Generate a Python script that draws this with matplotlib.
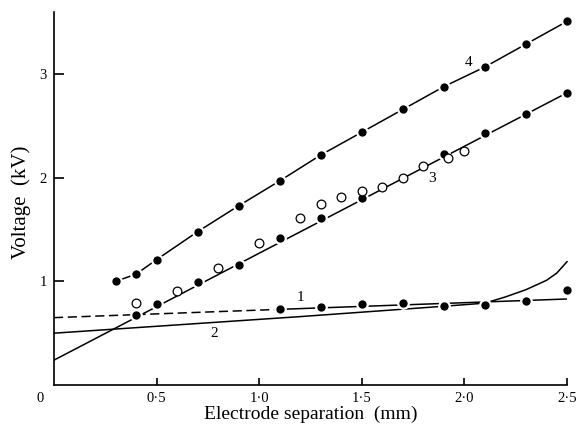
import matplotlib
matplotlib.use("Agg")
import matplotlib.pyplot as plt

plt.rcParams["font.family"] = ["Liberation Serif", "DejaVu Serif"]

# curve 4 (filled)
c4_x = [0.3, 0.4, 0.5, 0.7, 0.9, 1.1, 1.3, 1.5, 1.7, 1.9, 2.1, 2.3, 2.5]
c4_y = [1.00, 1.07, 1.21, 1.48, 1.73, 1.97, 2.22, 2.44, 2.66, 2.88, 3.07, 3.29, 3.51]

# curve 3 (filled) and its straight line
c3_x = [0.4, 0.5, 0.7, 0.9, 1.1, 1.3, 1.5, 1.9, 2.1, 2.3, 2.5]
c3_y = [0.68, 0.78, 0.99, 1.16, 1.42, 1.61, 1.80, 2.23, 2.43, 2.62, 2.82]
line3_x = [0.0, 2.5]
line3_y = [0.24, 2.82]

# curve 3 (open circles)
c3o_x = [0.4, 0.6, 0.8, 1.0, 1.2, 1.3, 1.4, 1.5, 1.6, 1.7, 1.8, 1.92, 2.0]
c3o_y = [0.79, 0.91, 1.13, 1.37, 1.61, 1.75, 1.81, 1.87, 1.91, 2.00, 2.11, 2.19, 2.26]

# curve 1 (filled) and its line: dashed part, solid part
c1_x = [1.1, 1.3, 1.5, 1.7, 1.9, 2.1, 2.3, 2.5]
c1_y = [0.73, 0.75, 0.78, 0.79, 0.76, 0.77, 0.81, 0.92]
line1_dash_x = [0.0, 1.1]
line1_dash_y = [0.65, 0.73]
line1_solid_x = [1.1, 2.5]
line1_solid_y = [0.73, 0.83]

# curve 2 (line only)
c2_x = [0.0, 0.6, 1.2, 1.9, 2.1, 2.2, 2.3, 2.4, 2.45, 2.5]
c2_y = [0.50, 0.58, 0.66, 0.76, 0.79, 0.85, 0.92, 1.01, 1.08, 1.19]

xticks = [0.5, 1.0, 1.5, 2.0, 2.5]
xtick_labels = ["0·5", "1·0", "1·5", "2·0", "2·5"]
yticks = [1, 2, 3]
ytick_labels = ["1", "2", "3"]

LW = 1.1
fig = plt.figure(figsize=(5.77, 4.29), dpi=100)
ax = fig.add_axes([0.0936, 0.1026, 0.8891, 0.8694])

ax.plot(line3_x, line3_y, color="black", lw=LW)
ax.plot(c4_x, c4_y, color="black", lw=LW)
ax.plot(line1_dash_x, line1_dash_y, color="black", lw=LW, dashes=(6, 3))
ax.plot(line1_solid_x, line1_solid_y, color="black", lw=LW)
ax.plot(c2_x, c2_y, color="black", lw=LW, clip_on=False)

dot = dict(ls="none", marker="o", ms=7.6, mfc="black", mec="white", mew=1.6, clip_on=False, zorder=3)
ax.plot(c4_x, c4_y, **dot)
ax.plot(c3_x, c3_y, **dot)
ax.plot(c1_x, c1_y, **dot)
ax.plot(c3o_x, c3o_y, ls="none", marker="o", ms=6.3, mfc="white", mec="black", mew=0.9, zorder=3)

for label, x, y in [("1", 1.2, 0.84), ("2", 0.78, 0.50), ("3", 1.84, 1.99), ("4", 2.02, 3.11)]:
    ax.text(x, y, label, fontsize=11, ha="center", va="center")

ax.set_xlim(0, 2.5)
ax.set_ylim(0, 3.6)
ax.spines["top"].set_visible(False)
ax.spines["right"].set_visible(False)
ax.spines["left"].set_linewidth(1.2)
ax.spines["bottom"].set_linewidth(1.2)

ax.set_xticks(xticks)
ax.set_xticklabels(xtick_labels)
ax.set_yticks(yticks)
ax.set_yticklabels(ytick_labels)
ax.tick_params(axis="x", direction="in", length=5, width=1.2, labelsize=10.5, pad=5)
ax.tick_params(axis="y", direction="in", length=7, width=1.2, labelsize=10.5, pad=5)
ax.text(-0.027, -0.02, "0", transform=ax.transAxes, ha="center", va="top", fontsize=10.5)

ax.set_xlabel("Electrode separation  (mm)", fontsize=14)
ax.xaxis.set_label_coords(0.5, -0.055)
ax.set_ylabel("Voltage  (kV)", fontsize=15)
ax.yaxis.set_label_coords(-0.045, 0.49)

fig.savefig("out.png", dpi=100)
